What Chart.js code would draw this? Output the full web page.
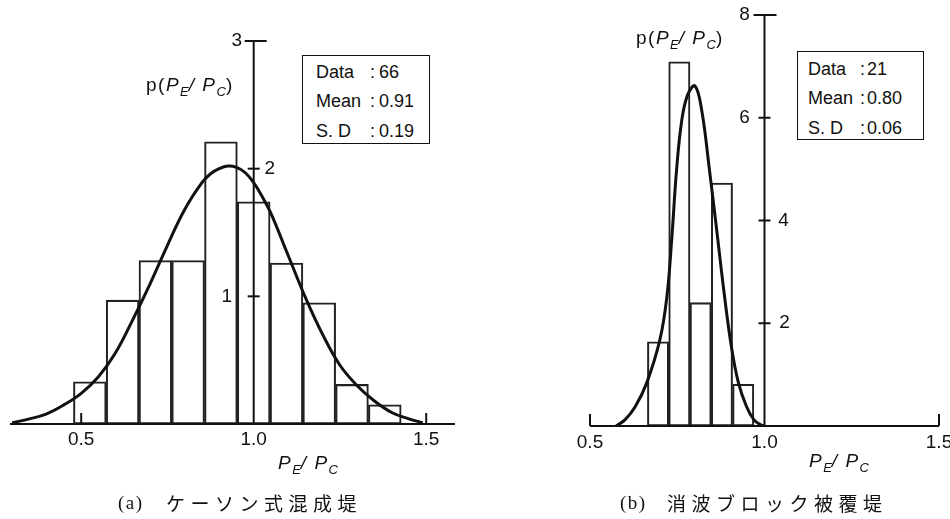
<!DOCTYPE html>
<html lang="ja">
<head>
<meta charset="utf-8">
<title>P_E / P_C の頻度分布</title>
<script src="https://cdn.jsdelivr.net/npm/chart.js@4.4.1/dist/chart.umd.min.js"></script>
<style>
    html, body { margin: 0; padding: 0; background: #fff; }
    body {
        width: 950px; height: 519px; position: relative; overflow: hidden;
        font-family: "Liberation Sans", Arial, sans-serif; color: #111;
    }
    canvas { position: absolute; top: 0; }
    #chart-a { left: 0; }
    #chart-b { left: 475px; }
    .label { position: absolute; font-size: 19px; line-height: 22px; white-space: nowrap; letter-spacing: 1.5px; }
    .label i { font-style: italic; }
    .label sub { font-size: 13px; line-height: 0; vertical-align: -5px; font-style: italic; letter-spacing: 0; }
    .stats { position: absolute; box-sizing: border-box; border: 1.5px solid #111; background: #fff; }
    .stats div { position: absolute; font-size: 18px; line-height: 22px; white-space: nowrap; }
    .caption { position: absolute; font-size: 19px; line-height: 24px; white-space: nowrap; }
    .caption .tag { position: absolute; left: 0; font-family: "Liberation Serif", serif; letter-spacing: 1.5px; }
    .caption .jp { position: absolute; font-family: "Noto Sans CJK JP", sans-serif; letter-spacing: 5.5px; }
</style>
</head>
<body>
<canvas id="chart-a" width="475" height="519"></canvas>
<canvas id="chart-b" width="475" height="519"></canvas>

<script>
// shared x ticks (P_E / P_C)
const xTicks = [0.5, 1.0, 1.5];
const statLabels = ['Data', 'Mean', 'S. D'];

// (a) caisson composite breakwater
const binCentersA = [0.525, 0.620, 0.715, 0.810, 0.905, 1.000, 1.095, 1.190, 1.285, 1.380];
const densityA = [0.33, 0.97, 1.28, 1.28, 2.21, 1.74, 1.26, 0.95, 0.31, 0.15];
const curveXA = [0.30, 0.35, 0.40, 0.45, 0.50, 0.55, 0.60, 0.65, 0.70, 0.75, 0.80, 0.85, 0.875, 0.90, 0.925,
                 0.95, 0.975, 1.00, 1.025, 1.05, 1.10, 1.15, 1.20, 1.25, 1.30, 1.35, 1.40, 1.45, 1.49];
const curveYA = [0.01, 0.04, 0.08, 0.15, 0.24, 0.37, 0.56, 0.82, 1.10, 1.40, 1.68, 1.89, 1.96, 2.00, 2.02,
                 2.01, 1.97, 1.89, 1.78, 1.65, 1.32, 0.99, 0.70, 0.46, 0.30, 0.18, 0.09, 0.04, 0.01];
const yTicksA = [1, 2, 3];
const statsA = ['66', '0.91', '0.19'];
const captionA = ['(a)', 'ケーソン式混成堤'];

// (b) breakwater covered with wave-dissipating blocks
const binCentersB = [0.695, 0.756, 0.817, 0.878, 0.939];
const densityB = [1.64, 7.09, 2.40, 4.73, 0.81];
const curveXB = [0.575, 0.60, 0.629, 0.662, 0.70, 0.72, 0.734, 0.748, 0.763, 0.780, 0.801,
                 0.820, 0.842, 0.865, 0.885, 0.905, 0.925, 0.949, 0.97, 0.99, 1.00];
const curveYB = [0.00, 0.12, 0.37, 0.83, 1.67, 2.50, 3.62, 4.98, 5.95, 6.45, 6.62,
                 6.15, 5.00, 3.70, 2.55, 1.55, 0.85, 0.37, 0.12, 0.02, 0.00];
const yTicksB = [2, 4, 6, 8];
const statsB = ['21', '0.80', '0.06'];
const captionB = ['(b)', '消波ブロック被覆堤'];

// layout for each panel (page pixels)
const panels = {
    a: {
        canvas: 'chart-a',
        bins: binCentersA, density: densityA, curveX: curveXA, curveY: curveYA, yTicks: yTicksA,
        xMin: 0.2936, xMax: 1.5835, yMax: 3,
        padding: { left: 10, right: 20, top: 41, bottom: 95 },
        capLeft: 9, capRight: 13, labelDx: [-27, 16, -17], xTickLen: 11, xLabelDy: 16,
        stats: statsA, statsBox: { left: 302, top: 55, width: 128, height: 89, text: 13, colon: 67, value: 76, row0: 5 },
        yTitle: { left: 146, top: 74 }, xTitle: { left: 278, top: 452 },
        caption: captionA, captionPos: { left: 118, top: 491, jp: 48 }
    },
    b: {
        canvas: 'chart-b',
        bins: binCentersB, density: densityB, curveX: curveXB, curveY: curveYB, yTicks: yTicksB,
        xMin: 0.5, xMax: 1.5, yMax: 8,
        padding: { left: 115, right: 11, top: 15, bottom: 93 },
        capLeft: 11, capRight: 12, labelDx: [20, 19, -20, -20], xTickLen: 12, xLabelDy: 17,
        stats: statsB, statsBox: { left: 797, top: 51, width: 127, height: 89, text: 10, colon: 62, value: 69, row0: 6 },
        yTitle: { left: 636, top: 27 }, xTitle: { left: 809, top: 450 },
        caption: captionB, captionPos: { left: 620, top: 491, jp: 47 }
    }
};

// axes crossing at P_E/P_C = 1.0, drawn from the chart's own scales
function axesPlugin(panel) {
    return {
        id: 'crossAxes',
        afterDatasetsDraw(chart) {
            const { ctx, chartArea } = chart;
            const xs = chart.scales.x;
            const ys = chart.scales.y;
            const base = ys.getPixelForValue(0);
            const axisX = xs.getPixelForValue(1.0);

            const seg = (x1, y1, x2, y2) => {
                ctx.beginPath();
                ctx.moveTo(x1, y1);
                ctx.lineTo(x2, y2);
                ctx.stroke();
            };

            ctx.save();
            ctx.strokeStyle = '#111';
            ctx.fillStyle = '#111';
            ctx.lineWidth = 2;

            // horizontal axis
            seg(chartArea.left, base, chartArea.right, base);
            ctx.font = '19px "Liberation Sans", Arial, sans-serif';
            ctx.textAlign = 'center';
            ctx.textBaseline = 'middle';
            xTicks.forEach(v => {
                const px = xs.getPixelForValue(v);
                if (v !== 1.0) seg(px, base, px, base - panel.xTickLen);
                ctx.fillText(v.toFixed(1), px, base + panel.xLabelDy);
            });

            // vertical axis
            const last = panel.yTicks.length - 1;
            const top = ys.getPixelForValue(panel.yTicks[last]);
            seg(axisX, top, axisX, base);
            panel.yTicks.forEach((v, i) => {
                const py = ys.getPixelForValue(v);
                const l = i === last ? panel.capLeft : 6;
                const r = i === last ? panel.capRight : 6;
                seg(axisX - l, py, axisX + r, py);
                ctx.fillText(String(v), axisX + panel.labelDx[i], py);
            });
            ctx.restore();
        }
    };
}

function drawPanel(panel) {
    const curve = panel.curveX.map((x, i) => ({ x: x, y: panel.curveY[i] }));
    const bars = panel.bins.map((x, i) => ({ x: x, y: panel.density[i] }));

    return new Chart(document.getElementById(panel.canvas), {
        type: 'bar',
        data: {
            datasets: [{
                type: 'line',
                label: 'normal fit',
                data: curve,
                borderColor: '#111',
                borderWidth: 3,
                pointRadius: 0,
                fill: false,
                tension: 0.4,
                order: 0
            }, {
                type: 'bar',
                label: 'histogram',
                data: bars,
                backgroundColor: 'rgba(255,255,255,0)',
                borderColor: '#222',
                borderWidth: 1.4,
                borderSkipped: false,
                barPercentage: 1,
                categoryPercentage: 1,
                order: 1
            }]
        },
        options: {
            responsive: false,
            animation: false,
            devicePixelRatio: 1,
            layout: { padding: panel.padding },
            plugins: {
                legend: { display: false },
                tooltip: { enabled: false }
            },
            scales: {
                x: {
                    type: 'linear',
                    min: panel.xMin,
                    max: panel.xMax,
                    offset: false,
                    display: false,
                    afterBuildTicks: scale => { scale.ticks = xTicks.map(v => ({ value: v })); }
                },
                y: { type: 'linear', min: 0, max: panel.yMax, display: false }
            }
        },
        plugins: [axesPlugin(panel)]
    });
}

function addText(panel) {
    const body = document.body;
    const ratio = 'p(<i>P</i><sub>E</sub><i>/ P</i><sub>C</sub>)';
    const xRatio = '<i>P</i><sub>E</sub><i>/ P</i><sub>C</sub>';

    const yTitle = document.createElement('div');
    yTitle.className = 'label';
    yTitle.style.left = panel.yTitle.left + 'px';
    yTitle.style.top = panel.yTitle.top + 'px';
    yTitle.innerHTML = ratio;
    body.appendChild(yTitle);

    const xTitle = document.createElement('div');
    xTitle.className = 'label';
    xTitle.style.left = panel.xTitle.left + 'px';
    xTitle.style.top = panel.xTitle.top + 'px';
    xTitle.innerHTML = xRatio;
    body.appendChild(xTitle);

    // statistics box
    const sb = panel.statsBox;
    const box = document.createElement('div');
    box.className = 'stats';
    Object.assign(box.style, {
        left: sb.left + 'px', top: sb.top + 'px', width: sb.width + 'px', height: sb.height + 'px'
    });
    statLabels.forEach((name, i) => {
        const top = sb.row0 + i * 29.3;
        [[name, sb.text], [':', sb.colon], [panel.stats[i], sb.value]].forEach(([t, x]) => {
            const d = document.createElement('div');
            d.textContent = t;
            d.style.left = x + 'px';
            d.style.top = top + 'px';
            box.appendChild(d);
        });
    });
    body.appendChild(box);

    // caption under the panel
    const cp = panel.captionPos;
    const cap = document.createElement('div');
    cap.className = 'caption';
    cap.style.left = cp.left + 'px';
    cap.style.top = cp.top + 'px';
    cap.innerHTML = '<span class="tag"></span><span class="jp"></span>';
    cap.querySelector('.tag').textContent = panel.caption[0];
    const jp = cap.querySelector('.jp');
    jp.textContent = panel.caption[1];
    jp.style.left = cp.jp + 'px';
    body.appendChild(cap);
}

Object.values(panels).forEach(panel => {
    drawPanel(panel);
    addText(panel);
});
</script>
</body>
</html>
